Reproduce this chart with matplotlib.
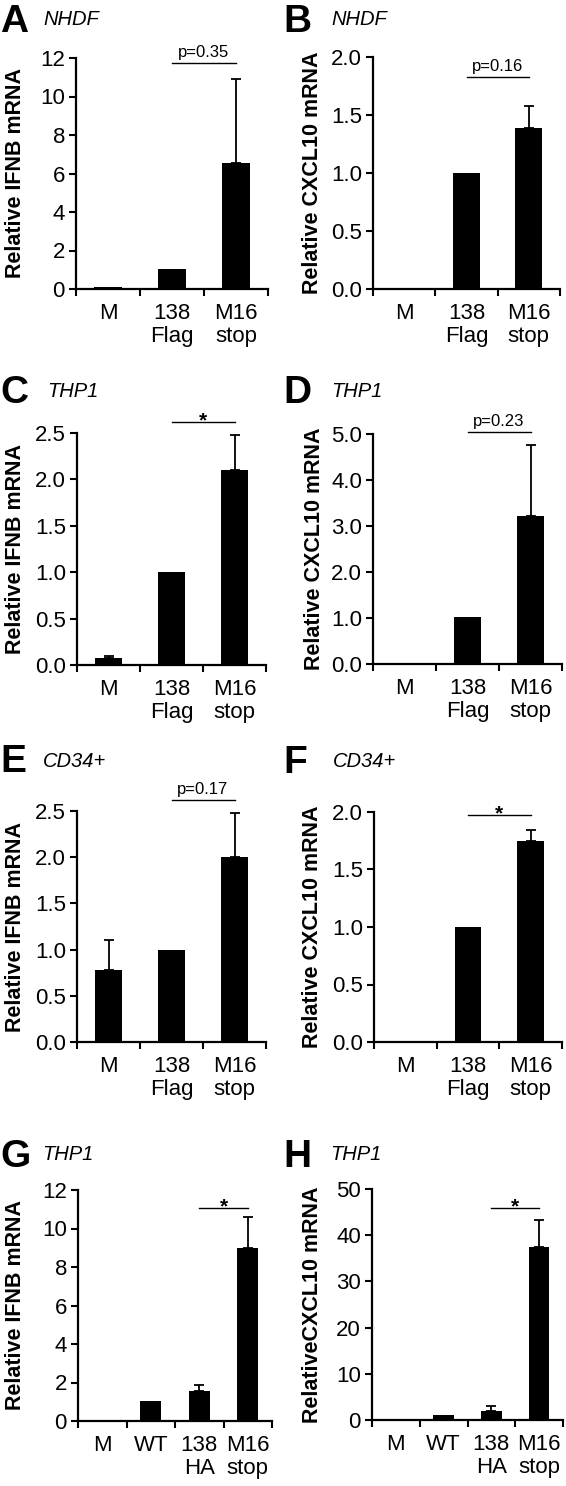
import numpy as np
import matplotlib
matplotlib.use("Agg")
import matplotlib.pyplot as plt

plt.rcParams['font.family'] = ['Liberation Sans', 'DejaVu Sans']

W, H = 566, 1486

# categories
cats3 = ["M", "138\nFlag", "M16\nstop"]
cats4 = ["M", "WT", "138\nHA", "M16\nstop"]

# panel values
a_vals = [0.09, 1.06, 6.52]
a_err = [0, 0, 4.4]
b_vals = [0.01, 1.0, 1.39]
b_err = [0, 0, 0.19]
c_vals = [0.08, 1.0, 2.1]
c_err = [0.02, 0, 0.38]
d_vals = [0.03, 1.02, 3.22]
d_err = [0, 0, 1.55]
e_vals = [0.78, 1.0, 2.0]
e_err = [0.32, 0, 0.48]
f_vals = [0.01, 1.0, 1.75]
f_err = [0, 0, 0.09]
g_vals = [0.05, 1.05, 1.55, 9.0]
g_err = [0, 0, 0.3, 1.6]
h_vals = [0.2, 1.0, 2.0, 37.5]
h_err = [0, 0, 1.1, 5.7]

ifnb = "Relative IFNB mRNA"
cxcl = "Relative CXCL10 mRNA"

# letter, cell type, cats, vals, err, ylabel, ymax, ystep, fmt, sig text, sig y,
# box (left, right, top, bottom px), letter baseline, celltype x/baseline, ylabel right px
panels = [
    ("A", "NHDF", cats3, a_vals, a_err, ifnb, 12, 2, "%d", "p=0.35", 11.75,
     (76, 268, 58, 289), (0, 32), (43, 25), 26),
    ("B", "NHDF", cats3, b_vals, b_err, cxcl, 2.0, 0.5, "%.1f", "p=0.16", 1.83,
     (373, 560, 57, 289), (283, 32), (331, 25), 323),
    ("C", "THP1", cats3, c_vals, c_err, ifnb, 2.5, 0.5, "%.1f", "*", 2.62,
     (77, 266, 433, 665), (0, 403), (47, 397), 26),
    ("D", "THP1", cats3, d_vals, d_err, cxcl, 5.0, 1.0, "%.1f", "p=0.23", 5.04,
     (373, 562, 434, 664), (283, 403), (331, 397), 325),
    ("E", "CD34+", cats3, e_vals, e_err, ifnb, 2.5, 0.5, "%.1f", "p=0.17", 2.62,
     (77, 266, 811, 1042), (0, 772), (43, 767), 26),
    ("F", "CD34+", cats3, f_vals, f_err, cxcl, 2.0, 0.5, "%.1f", "*", 1.97,
     (374, 562, 812, 1042), (283, 773), (333, 767), 323),
    ("G", "THP1", cats4, g_vals, g_err, ifnb, 12, 2, "%d", "*", 11.07,
     (78, 272, 1190, 1421), (0, 1167), (42, 1160), 26),
    ("H", "THP1", cats4, h_vals, h_err, "RelativeCXCL10 mRNA", 50, 10, "%d", "*", 45.9,
     (372, 563, 1189, 1420), (283, 1167), (330, 1160), 323),
]

fig = plt.figure(figsize=(W / 100, H / 100), dpi=100)

for (letter, cell, cats, vals, err, ylab, ymax, ystep, fmt, sig, sigy,
     box, lpos, cpos, ylx) in panels:
    l, r, t, b = box
    ax = fig.add_axes([l / W, 1 - b / H, (r - l) / W, (b - t) / H])
    n = len(cats)
    x = np.arange(n)
    ax.bar(x, vals, width=0.43, color="black", zorder=2)
    err = np.array(err)
    m = err > 0
    ax.errorbar(x[m], np.array(vals)[m], yerr=[np.zeros(m.sum()), err[m]],
                fmt="none", ecolor="black", elinewidth=1.3, capsize=3.5,
                capthick=1.3, zorder=1)
    ax.set_xlim(-0.5, n - 0.5)
    ax.set_ylim(0, ymax)
    ticks = np.arange(0, ymax + ystep / 2, ystep)
    ax.set_yticks(ticks)
    ax.set_yticklabels([fmt % v for v in ticks])
    ax.set_xticks(np.arange(-0.5, n, 1.0))
    ax.set_xticklabels([])
    ax.set_xticks(x, minor=True)
    ax.set_xticklabels(cats, minor=True, linespacing=1.12)
    ax.tick_params(axis="x", which="minor", length=0, pad=10, labelsize=16)
    ax.tick_params(axis="x", which="major", length=5, width=1.5, direction="out")
    ax.tick_params(axis="y", length=5, width=1.5, direction="out", labelsize=16, pad=3)
    for s in ["top", "right"]:
        ax.spines[s].set_visible(False)
    for s in ["left", "bottom"]:
        ax.spines[s].set_linewidth(1.6)
    ax.set_ylabel(ylab, fontsize=15.5, fontweight="bold")
    ax.yaxis.set_label_coords((ylx - l) / (r - l), 0.5)

    # significance bar between the last two groups
    ax.plot([n - 2, n - 1], [sigy, sigy], color="black", lw=1.0, clip_on=False)
    if sig == "*":
        ax.annotate("*", (n - 1.5, sigy), xytext=(0, -3), textcoords="offset points",
                    ha="center", va="baseline", fontsize=15, fontweight="bold",
                    annotation_clip=False)
    else:
        ax.annotate(sig, (n - 1.5, sigy), xytext=(0, 2), textcoords="offset points",
                    ha="center", va="bottom", fontsize=12, annotation_clip=False)

    fig.text(lpos[0] / W, 1 - lpos[1] / H, letter, fontsize=28,
             fontweight="bold", ha="left", va="baseline")
    fig.text(cpos[0] / W, 1 - cpos[1] / H, cell, fontsize=14.5,
             fontstyle="italic", ha="left", va="baseline")

fig.savefig("out.png", dpi=100)
